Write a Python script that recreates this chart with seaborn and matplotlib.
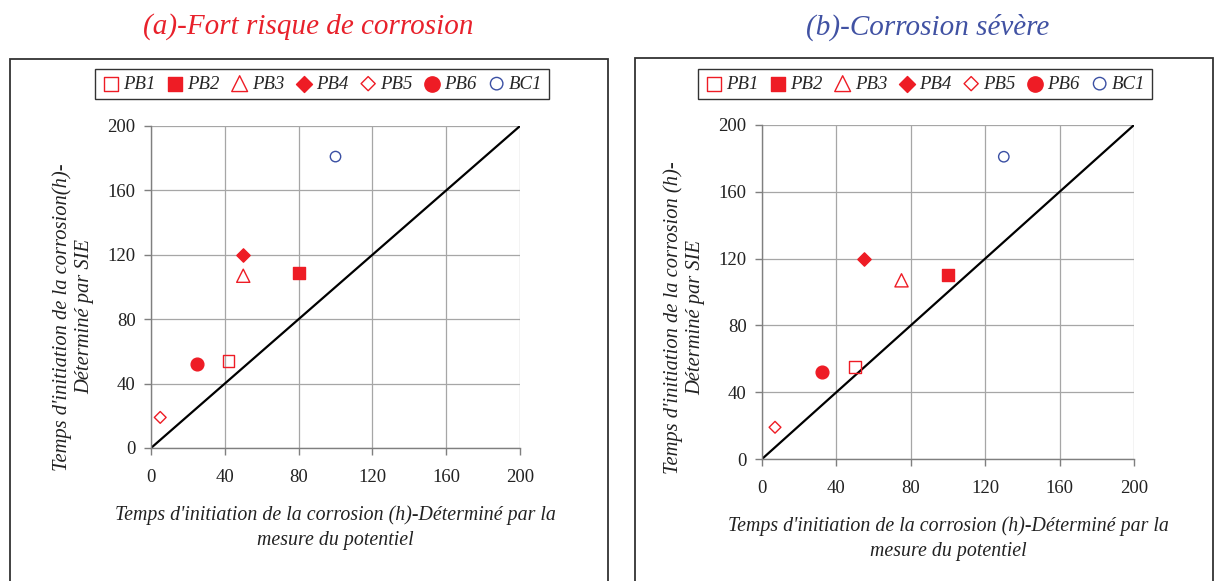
import numpy as np
import pandas as pd
import matplotlib
matplotlib.use("Agg")
import matplotlib.pyplot as plt
import seaborn as sns
from matplotlib.patches import Rectangle

# ---- data ----
series = ["PB1", "PB2", "PB3", "PB4", "PB5", "PB6", "BC1"]
pot_a = [42, 80, 50, 50, 5, 25, 100]      # panel (a) x: potential
sie_a = [54, 109, 107, 120, 19, 52, 181]   # panel (a) y: SIE
pot_b = [50, 100, 75, 55, 7, 32, 130]     # panel (b) x
sie_b = [55, 110, 107, 120, 19, 52, 181]   # panel (b) y
diag = [0, 200]
ticks = [0, 40, 80, 120, 160, 200]
titles = ["(a)-Fort risque de corrosion", "(b)-Corrosion sévère"]
ylabels = ["Temps d'initiation de la corrosion(h)-\nDéterminé par SIE",
           "Temps d'initiation de la corrosion (h)-\nDéterminé par SIE"]
xlabel = "Temps d'initiation de la corrosion (h)-Déterminé par la\nmesure du potentiel"

# ---- styles ----
RED = "#ee1c25"
BLUE = "#3a4fa3"
styles = {
    "PB1": dict(marker="s", filled=False, color=RED, s=70),
    "PB2": dict(marker="s", filled=True, color=RED, s=78),
    "PB3": dict(marker="^", filled=False, color=RED, s=90),
    "PB4": dict(marker="D", filled=True, color=RED, s=46),
    "PB5": dict(marker="D", filled=False, color=RED, s=36),
    "PB6": dict(marker="o", filled=True, color=RED, s=84),
    "BC1": dict(marker="o", filled=False, color=BLUE, s=56),
}

sns.set_theme(style="white")
plt.rcParams["font.family"] = ["Liberation Serif", "DejaVu Serif"]

W, H = 1216, 581
fig = plt.figure(figsize=(W / 100, H / 100), dpi=100)

def fx(px):
    return px / W

def fy(py):
    return 1 - py / H

panels = [
    dict(ax=(151, 126, 520, 448), frame=(10, 59, 608), title_x=308, title_c="#e8212b",
         leg_x=322, ylab=(73, 317), xs=pot_a, ys=sie_a),
    dict(ax=(762, 125, 1134, 459), frame=(635, 58, 1213), title_x=928, title_c="#4152a3",
         leg_x=925, ylab=(684, 318), xs=pot_b, ys=sie_b),
]

for i, p in enumerate(panels):
    x0, y0, x1, y1 = p["frame"][0], p["frame"][1], p["frame"][2], H + 20
    fig.patches.append(Rectangle((fx(x0), fy(y1)), fx(x1) - fx(x0), fy(y0) - fy(y1),
                                 transform=fig.transFigure, fill=False,
                                 edgecolor="#333333", linewidth=1.3, zorder=0))
    l, t, r, b = p["ax"]
    ax = fig.add_axes([fx(l), fy(b), fx(r) - fx(l), fy(t) - fy(b)])
    ax.set_facecolor("none")

    df = pd.DataFrame({"series": series, "x": p["xs"], "y": p["ys"]})
    sns.lineplot(x=diag, y=diag, ax=ax, color="black", linewidth=1.6, zorder=2)
    for name in series:
        st = styles[name]
        row = df[df["series"] == name]
        if st["filled"]:
            sns.scatterplot(x=row["x"], y=row["y"], ax=ax, marker=st["marker"], s=st["s"],
                            facecolor=st["color"], edgecolor=st["color"], linewidth=1.0,
                            label=name, zorder=3)
        else:
            sns.scatterplot(x=row["x"], y=row["y"], ax=ax, marker=st["marker"], s=st["s"],
                            facecolor="none", edgecolor=st["color"], linewidth=1.0,
                            label=name, zorder=3)

    ax.set_xlim(0, 200)
    ax.set_ylim(0, 200)
    ax.set_xticks(ticks)
    ax.set_yticks(ticks)
    ax.grid(True, color="#a6a6a6", linewidth=0.9)
    ax.set_axisbelow(True)
    for side in ["top", "right"]:
        ax.spines[side].set_visible(False)
    for side in ["left", "bottom"]:
        ax.spines[side].set_color("#7f7f7f")
        ax.spines[side].set_linewidth(1.0)
    ax.tick_params(axis="both", direction="out", length=5, width=1.0, color="#7f7f7f",
                   labelsize=13.5, labelcolor="#222222", pad=6, bottom=True, left=True)
    ax.tick_params(axis="x", pad=10)

    ax.set_xlabel(xlabel, fontsize=14.3, fontstyle="italic", color="#222222",
                  linespacing=1.45, labelpad=14)
    ylab = ax.set_ylabel(ylabels[i], fontsize=14.8, fontstyle="italic", color="#222222",
                         linespacing=1.2)
    ylab.set_verticalalignment("center")
    ylab.set_horizontalalignment("center")
    ax.yaxis.set_label_coords((p["ylab"][0] - l) / (r - l), (b - p["ylab"][1]) / (b - t))

    fig.text(fx(p["title_x"]), fy(27), titles[i], ha="center", va="center",
             fontsize=21, fontstyle="italic", color=p["title_c"])

    handles, labels = ax.get_legend_handles_labels()
    ax.legend(handles, labels, ncol=7, loc="center", bbox_to_anchor=(fx(p["leg_x"]), fy(84)),
              bbox_transform=fig.transFigure, frameon=True, fancybox=False,
              edgecolor="#333333", framealpha=1, borderpad=0.35, handletextpad=0.15,
              columnspacing=0.55, handlelength=1.0, borderaxespad=0, markerscale=1.2,
              prop=dict(family=["Liberation Serif"], style="italic", size=13.5))
    ax.get_legend().get_frame().set_linewidth(1.0)

fig.savefig("out.png", dpi=100)
